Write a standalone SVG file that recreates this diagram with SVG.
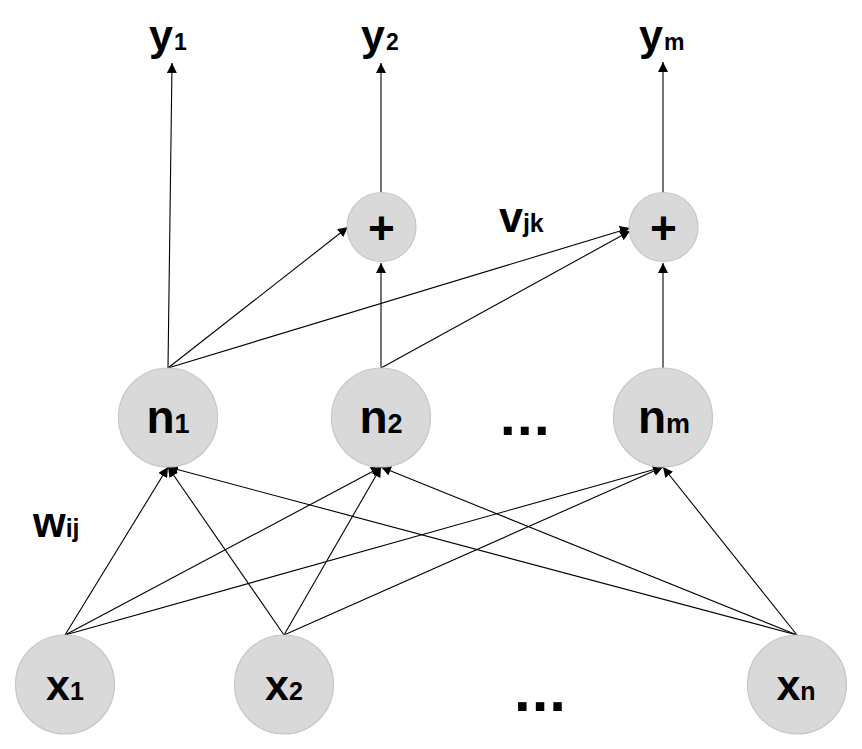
<svg xmlns="http://www.w3.org/2000/svg" width="862" height="749" viewBox="0 0 862 749">
<defs>
<marker id="ah" viewBox="0 0 10 10" refX="10" refY="5" markerWidth="10" markerHeight="10" markerUnits="userSpaceOnUse" orient="auto">
<path d="M0,0 L10,5 L0,10 z" fill="#000"/>
</marker>
</defs>
<style>
.node{fill:#d9d9d9;stroke:#c6c6c6;stroke-width:1.2}
.lbl{font-family:"Liberation Sans",Arial,sans-serif;font-weight:bold;fill:#000}
.conn line{stroke:#000;stroke-width:1.1;marker-end:url(#ah)}
</style>
<rect width="862" height="749" fill="#fff"/>
<g id="connectors" class="conn">
<line x1="168" y1="368" x2="172" y2="63"/>
<line x1="381" y1="192" x2="381" y2="63"/>
<line x1="663" y1="192" x2="663" y2="62"/>
<line x1="381" y1="368" x2="381" y2="263"/>
<line x1="663" y1="368" x2="663" y2="263"/>
<line x1="168" y1="368" x2="348" y2="227"/>
<line x1="168" y1="368" x2="630" y2="228"/>
<line x1="381" y1="368" x2="630" y2="231"/>
<line x1="65" y1="635" x2="168" y2="467"/>
<line x1="65" y1="635" x2="381" y2="467"/>
<line x1="65" y1="635" x2="663" y2="467"/>
<line x1="284" y1="635" x2="168" y2="467"/>
<line x1="284" y1="635" x2="381" y2="467"/>
<line x1="284" y1="635" x2="663" y2="467"/>
<line x1="797" y1="635" x2="168" y2="467"/>
<line x1="797" y1="635" x2="381" y2="467"/>
<line x1="797" y1="635" x2="663" y2="467"/>
</g>
<g id="y1"><text class="lbl" x="149" y="50"><tspan font-size="43">y</tspan><tspan font-size="23" dx="1">1</tspan></text></g>
<g id="y2"><text class="lbl" x="361" y="50"><tspan font-size="43">y</tspan><tspan font-size="23" dx="1">2</tspan></text></g>
<g id="ym"><text class="lbl" x="639" y="50"><tspan font-size="43">y</tspan><tspan font-size="23" dx="1">m</tspan></text></g>
<g id="plus1"><circle class="node" cx="381.5" cy="227" r="34.5"/><text class="lbl" x="381.5" y="244" font-size="46" text-anchor="middle">+</text></g>
<g id="plus2"><circle class="node" cx="663.5" cy="227" r="34.5"/><text class="lbl" x="663.5" y="244" font-size="46" text-anchor="middle">+</text></g>
<g id="vjk"><text class="lbl" x="499" y="232"><tspan font-size="43">v</tspan><tspan font-size="25">jk</tspan></text></g>
<g id="n1"><circle class="node" cx="168" cy="417.5" r="49.5"/><text class="lbl" x="168" y="433" text-anchor="middle"><tspan font-size="46">n</tspan><tspan font-size="27">1</tspan></text></g>
<g id="n2"><circle class="node" cx="381" cy="417.5" r="49.5"/><text class="lbl" x="381" y="433" text-anchor="middle"><tspan font-size="46">n</tspan><tspan font-size="27">2</tspan></text></g>
<g id="dots1"><text class="lbl" x="500" y="435" font-size="56" letter-spacing="1.5">...</text></g>
<g id="nm"><circle class="node" cx="663" cy="417.5" r="49.5"/><text class="lbl" x="664" y="433" text-anchor="middle"><tspan font-size="46">n</tspan><tspan font-size="27">m</tspan></text></g>
<g id="wij"><text class="lbl" x="33" y="537"><tspan font-size="42">w</tspan><tspan font-size="25">ij</tspan></text></g>
<g id="x1"><circle class="node" cx="65" cy="684.5" r="49.5"/><text class="lbl" x="65" y="700" text-anchor="middle"><tspan font-size="43">x</tspan><tspan font-size="25">1</tspan></text></g>
<g id="x2"><circle class="node" cx="284" cy="684.5" r="49.5"/><text class="lbl" x="284" y="700" text-anchor="middle"><tspan font-size="43">x</tspan><tspan font-size="25">2</tspan></text></g>
<g id="dots2"><text class="lbl" x="514" y="711" font-size="60" letter-spacing="1">...</text></g>
<g id="xn"><circle class="node" cx="797" cy="684.5" r="49.5"/><text class="lbl" x="796" y="700" text-anchor="middle"><tspan font-size="43">x</tspan><tspan font-size="25">n</tspan></text></g>
</svg>
